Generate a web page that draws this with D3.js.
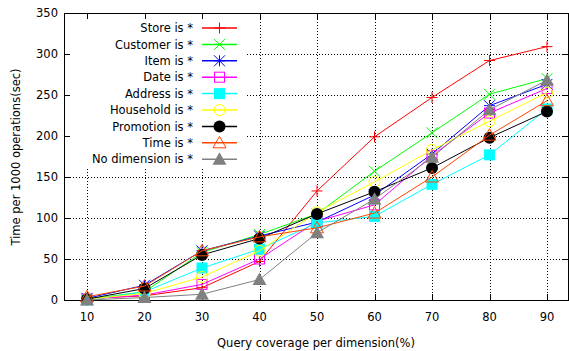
<!DOCTYPE html>
<html>
<head>
<meta charset="utf-8">
<script src="https://cdn.jsdelivr.net/npm/d3@7"></script>
<style>
  body { margin: 0; background: #fff; }
  svg { display: block; }
</style>
</head>
<body>
<svg id="chart" width="569" height="351"></svg>
<script>
// Data
const coverage = [10, 20, 30, 40, 50, 60, 70, 80, 90];
const yTicks = [0, 50, 100, 150, 200, 250, 300, 350];

const storeVals     = [2, 5, 15, 47, 133, 199, 247, 292, 309];
const customerVals  = [1, 10, 58, 80, 105, 157, 204, 251, 270];
const itemVals      = [2, 18, 60, 78, 95, 128, 178, 237, 263];
const dateVals      = [1, 6, 19, 50, 96, 116, 176, 228, 258];
const addressVals   = [0, 10, 39, 62, 94, 102, 141, 177, 233];
const householdVals = [1, 8, 28, 60, 107, 144, 183, 218, 253];
const promotionVals = [1, 14, 55, 75, 105, 132, 161, 198, 230];
const timeVals      = [4, 17, 60, 77, 88, 106, 150, 201, 243];
const noDimVals     = [0, 3, 7, 25, 82, 123, 174, 232, 268];

const series = [
    { name: "Store is *",        values: storeVals,     color: "#ff0000", marker: "plus" },
    { name: "Customer is *",     values: customerVals,  color: "#00ff00", marker: "cross" },
    { name: "Item is *",         values: itemVals,      color: "#0000ff", marker: "star" },
    { name: "Date is *",         values: dateVals,      color: "#ff00ff", marker: "square" },
    { name: "Address is *",      values: addressVals,   color: "#00ffff", marker: "squareFilled" },
    { name: "Household is *",    values: householdVals, color: "#ffff00", marker: "circle" },
    { name: "Promotion is *",    values: promotionVals, color: "#000000", marker: "circleFilled" },
    { name: "Time is *",         values: timeVals,      color: "#ff4500", marker: "triangle" },
    { name: "No dimension is *", values: noDimVals,     color: "#808080", marker: "triangleFilled" }
];

const font_family = "DejaVu Sans";
const font_size = 11.5;

const svg = d3.select("#chart");
const plotLeft = 64, plotRight = 569, plotTop = 13, plotBottom = 300;

const x = d3.scaleLinear().domain([6, 94]).range([plotLeft, plotRight + 1]);
const y = d3.scaleLinear().domain([0, 350]).range([plotBottom, plotTop]);

// Grid (dotted)
const grid = svg.append("g")
    .attr("stroke", "#000")
    .attr("stroke-width", 1)
    .attr("stroke-dasharray", "1,2");

grid.selectAll(".gx")
    .data(coverage)
    .enter().append("line")
    .attr("x1", d => Math.round(x(d)) + 0.5)
    .attr("x2", d => Math.round(x(d)) + 0.5)
    .attr("y1", plotTop)
    .attr("y2", plotBottom);

grid.selectAll(".gy")
    .data(yTicks.slice(1, -1))
    .enter().append("line")
    .attr("x1", plotLeft)
    .attr("x2", plotRight)
    .attr("y1", d => Math.round(y(d)) + 0.5)
    .attr("y2", d => Math.round(y(d)) + 0.5);

// Legend background hides grid behind key
svg.append("rect")
    .attr("x", plotLeft + 1)
    .attr("y", plotTop + 1)
    .attr("width", 245 - plotLeft)
    .attr("height", 166 - plotTop)
    .attr("fill", "#fff");

// Border
svg.append("rect")
    .attr("x", plotLeft + 0.5)
    .attr("y", plotTop + 0.5)
    .attr("width", plotRight - plotLeft - 1)
    .attr("height", plotBottom - plotTop)
    .attr("fill", "none")
    .attr("stroke", "#000")
    .attr("stroke-width", 1);

// Ticks (inward, mirrored)
const tickLen = 6;
const ticks = svg.append("g").attr("stroke", "#000").attr("stroke-width", 1);
coverage.forEach(d => {
    const px = Math.round(x(d)) + 0.5;
    ticks.append("line").attr("x1", px).attr("x2", px).attr("y1", plotBottom).attr("y2", plotBottom - tickLen);
    ticks.append("line").attr("x1", px).attr("x2", px).attr("y1", plotTop).attr("y2", plotTop + tickLen);
});
yTicks.forEach(d => {
    const py = Math.round(y(d)) + 0.5;
    ticks.append("line").attr("x1", plotLeft).attr("x2", plotLeft + tickLen).attr("y1", py).attr("y2", py);
    ticks.append("line").attr("x1", plotRight - 1).attr("x2", plotRight - 1 - tickLen).attr("y1", py).attr("y2", py);
});

// Tick labels
svg.append("g").selectAll("text")
    .data(yTicks)
    .enter().append("text")
    .attr("x", 58)
    .attr("y", d => y(d))
    .attr("dy", "0.36em")
    .attr("text-anchor", "end")
    .attr("font-family", font_family)
    .attr("font-size", font_size)
    .text(d => d);

svg.append("g").selectAll("text")
    .data(coverage)
    .enter().append("text")
    .attr("x", d => x(d))
    .attr("y", 321)
    .attr("text-anchor", "middle")
    .attr("font-family", font_family)
    .attr("font-size", font_size)
    .text(d => d);

// Axis titles
svg.append("text")
    .attr("x", 316)
    .attr("y", 347)
    .attr("text-anchor", "middle")
    .attr("font-family", font_family)
    .attr("font-size", font_size)
    .text("Query coverage per dimension(%)");

svg.append("text")
    .attr("transform", "rotate(-90)")
    .attr("x", -157)
    .attr("y", 20)
    .attr("text-anchor", "middle")
    .attr("font-family", font_family)
    .attr("font-size", font_size)
    .text("Time per 1000 operations(sec)");

// Marker drawing
function drawMarker(g, type, cx, cy, color) {
    const s = 5.5;
    switch (type) {
        case "plus":
            g.append("path").attr("d", `M${cx - s},${cy}H${cx + s}M${cx},${cy - s}V${cy + s}`)
                .attr("stroke", color).attr("fill", "none");
            break;
        case "cross":
            g.append("path").attr("d", `M${cx - s},${cy - s}L${cx + s},${cy + s}M${cx - s},${cy + s}L${cx + s},${cy - s}`)
                .attr("stroke", color).attr("fill", "none");
            break;
        case "star":
            g.append("path").attr("d", `M${cx - s},${cy}H${cx + s}M${cx},${cy - s}V${cy + s}M${cx - s},${cy - s}L${cx + s},${cy + s}M${cx - s},${cy + s}L${cx + s},${cy - s}`)
                .attr("stroke", color).attr("fill", "none");
            break;
        case "square":
            g.append("rect").attr("x", cx - 5).attr("y", cy - 5).attr("width", 10).attr("height", 10)
                .attr("stroke", color).attr("fill", "none");
            break;
        case "squareFilled":
            g.append("rect").attr("x", cx - 5.5).attr("y", cy - 5.5).attr("width", 11).attr("height", 11)
                .attr("fill", color);
            break;
        case "circle":
            g.append("circle").attr("cx", cx).attr("cy", cy).attr("r", 5.5)
                .attr("stroke", color).attr("fill", "none");
            break;
        case "circleFilled":
            g.append("circle").attr("cx", cx).attr("cy", cy).attr("r", 6)
                .attr("fill", color);
            break;
        case "triangle":
            g.append("path").attr("d", `M${cx},${cy - 6.5}L${cx + 6.5},${cy + 5}L${cx - 6.5},${cy + 5}Z`)
                .attr("stroke", color).attr("fill", "none");
            break;
        case "triangleFilled":
            g.append("path").attr("d", `M${cx},${cy - 7}L${cx + 7},${cy + 5.5}L${cx - 7},${cy + 5.5}Z`)
                .attr("fill", color);
            break;
    }
}

// Lines and points
const line = d3.line()
    .x((d, i) => x(coverage[i]))
    .y(d => y(d));

series.forEach(s => {
    const g = svg.append("g");
    g.append("path")
        .datum(s.values)
        .attr("d", line)
        .attr("fill", "none")
        .attr("stroke", s.color)
        .attr("stroke-width", 1);
    s.values.forEach((v, i) => drawMarker(g, s.marker, x(coverage[i]), y(v), s.color));
});

// Legend
const legendTextX = 193, legendLineX1 = 202, legendLineX2 = 237, legendY0 = 28, legendStep = 16.4;
series.forEach((s, i) => {
    const ly = legendY0 + i * legendStep;
    const g = svg.append("g");
    g.append("text")
        .attr("x", legendTextX)
        .attr("y", ly)
        .attr("dy", "0.36em")
        .attr("text-anchor", "end")
        .attr("font-family", font_family)
        .attr("font-size", font_size)
        .text(s.name);
    g.append("line")
        .attr("x1", legendLineX1).attr("x2", legendLineX2)
        .attr("y1", ly).attr("y2", ly)
        .attr("stroke", s.color).attr("stroke-width", 1.5);
    drawMarker(g, s.marker, (legendLineX1 + legendLineX2) / 2, ly, s.color);
});
</script>
</body>
</html>
